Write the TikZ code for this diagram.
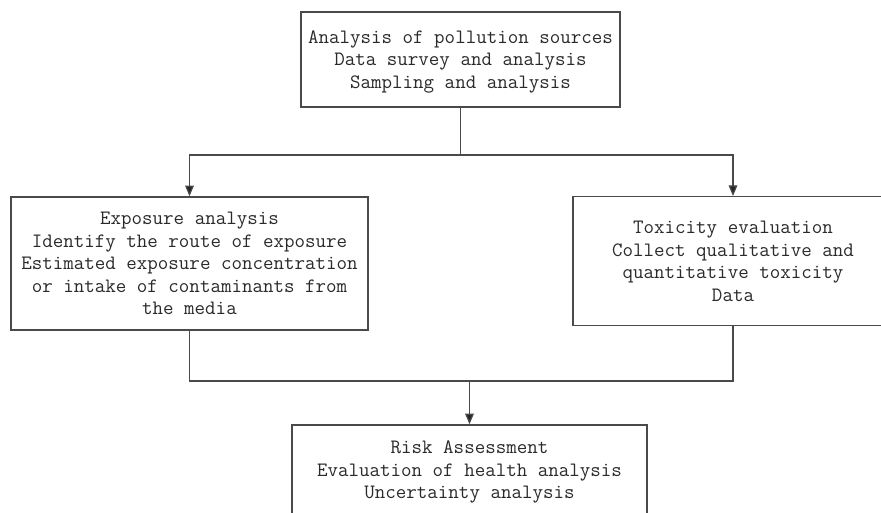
\documentclass[tikz,border=0pt]{standalone}
\usepackage{fontspec}
\usetikzlibrary{arrows.meta}
\definecolor{linegray}{HTML}{4A4A4A}
\definecolor{txtgray}{HTML}{2A2A2A}
\begin{document}
\begin{tikzpicture}[x=0.75pt,y=-0.75pt,
  box/.style={draw=linegray, line width=1.1pt, fill=white, inner sep=0pt, align=center,
    text=txtgray, font=\ttfamily\fontsize{15.3pt}{16.8pt}\selectfont},
  conn/.style={draw=linegray, line width=0.9pt},
  arr/.style={conn, -{Triangle[length=8pt,width=6.5pt,fill=black!85]}}]
\useasboundingbox (0,0) rectangle (881,512);
\clip (0,0) rectangle (881,512);
\node[box, minimum width=239.25pt, minimum height=71.25pt, text depth=0pt] (top) at (460.5,59.5)
  {Analysis of pollution sources\\Data survey and analysis\\Sampling and analysis};
\node[box, minimum width=267.75pt, minimum height=99.75pt] (expo) at (189.5,263.5)
  {Exposure analysis\\Identify the route of exposure\\Estimated exposure concentration\\or intake of contaminants from\\the media};
\node[box, minimum width=240pt, minimum height=96.75pt] (tox) at (733,261.25)
  {Toxicity evaluation\\Collect qualitative and\\quantitative toxicity\\Data};
\node[box, minimum width=266.25pt, minimum height=70.5pt] (risk) at (469.5,472)
  {Risk Assessment\\Evaluation of health analysis\\Uncertainty analysis};
\coordinate (split) at (460.5,155);
\coordinate (merge) at (469.5,381);
\draw[conn] (top.south) -- (split);
\draw[arr] (split) -| (expo.north);
\draw[arr] (split) -| (tox.north);
\draw[conn] (expo.south) |- (merge);
\draw[conn] (tox.south) |- (merge);
\draw[arr] (merge) -- (risk.north);
\end{tikzpicture}
\end{document}
